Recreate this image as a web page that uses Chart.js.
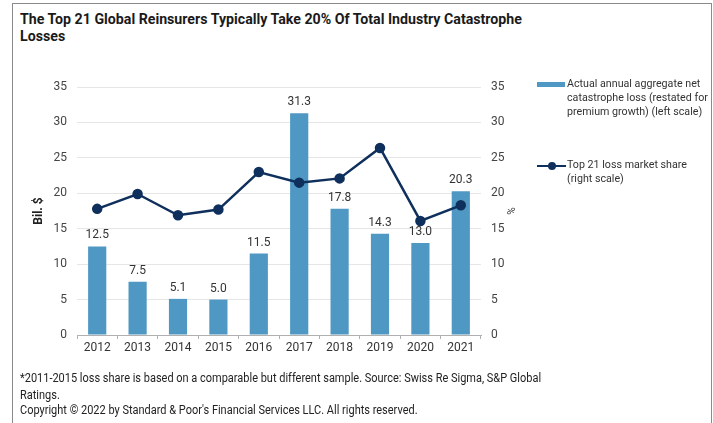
<!DOCTYPE html>
<html>
<head>
<meta charset="utf-8">
<script src="https://cdn.jsdelivr.net/npm/chart.js@4.4.1/dist/chart.umd.min.js"></script>
<style>
  html, body { margin: 0; padding: 0; background: #fff; }
  body { width: 713px; height: 423px; position: relative; overflow: hidden; font-family: Roboto, sans-serif; color: #111; }
  #frame { position: absolute; left: 12px; top: 3px; width: 700px; height: 440px; border: 1px solid #8a8a8a; box-sizing: border-box; }
  #title { position: absolute; left: 20px; top: 11px; width: 580px; font-weight: bold; font-size: 15px; line-height: 17px; color: #1a1a1a; transform: scaleX(0.945); transform-origin: left top; }
  #chartBox { position: absolute; left: 0; top: 0; width: 713px; height: 423px; }
  .note { position: absolute; left: 20px; font-size: 12px; color: #222; white-space: nowrap; transform: scaleX(0.915); transform-origin: left top; }
  .leg { position: absolute; left: 537px; font-size: 10.7px; line-height: 14px; color: #333; }
  .leg .txt { position: absolute; left: 30px; top: 0; width: 150px; white-space: nowrap; }
</style>
</head>
<body>
<div id="frame"></div>
<div id="title">The Top 21 Global Reinsurers Typically Take 20% Of Total Industry Catastrophe<br>Losses</div>
<div id="chartBox"><canvas id="chart" width="713" height="423"></canvas></div>
<div id="legend"></div>
<div class="note" style="top:371px">*2011-2015 loss share is based on a comparable but different sample. Source: Swiss Re Sigma, S&amp;P Global</div>
<div class="note" style="top:388px">Ratings.</div>
<div class="note" style="top:403px">Copyright © 2022 by Standard &amp; Poor's Financial Services LLC. All rights reserved.</div>
<script>
// data
const years = ['2012', '2013', '2014', '2015', '2016', '2017', '2018', '2019', '2020', '2021'];
const catLoss = [12.5, 7.5, 5.1, 5.0, 11.5, 31.3, 17.8, 14.3, 13.0, 20.3];
const marketShare = [17.8, 19.9, 16.9, 17.7, 23.0, 21.5, 22.1, 26.4, 16.1, 18.3];
const axisTicks = [0, 5, 10, 15, 20, 25, 30, 35];
const lossLabel = ['Actual annual aggregate net', 'catastrophe loss (restated for', 'premium growth) (left scale)'];
const shareLabel = ['Top 21 loss market share', '(right scale)'];

const barColor = '#4f98c3';
const lineColor = '#0f2f5c';

// value labels on top of bars
const barLabels = {
    id: 'barLabels',
    afterDatasetsDraw(chart) {
        const ctx = chart.ctx;
        const meta = chart.getDatasetMeta(1);
        ctx.save();
        ctx.font = '12px Roboto, sans-serif';
        ctx.fillStyle = '#333';
        ctx.textAlign = 'center';
        ctx.textBaseline = 'bottom';
        meta.data.forEach((bar, i) => {
            ctx.fillText(catLoss[i].toFixed(1), bar.x, bar.y - 5);
        });
        ctx.restore();
    }
};

let mychart = new Chart(document.getElementById('chart'), {
    type: 'bar',
    data: {
        labels: years,
        datasets: [
            {
                type: 'line',
                label: shareLabel.join(' '),
                data: marketShare,
                yAxisID: 'y2',
                borderColor: lineColor,
                backgroundColor: lineColor,
                borderWidth: 2.5,
                pointRadius: 4,
                pointBackgroundColor: lineColor,
                tension: 0,
                order: 0
            },
            {
                label: lossLabel.join(' '),
                data: catLoss,
                yAxisID: 'y',
                backgroundColor: barColor,
                barPercentage: 0.45,
                categoryPercentage: 1,
                order: 1
            }
        ]
    },
    options: {
        responsive: false,
        animation: false,
        layout: { padding: { left: 32, top: 87, right: 198, bottom: 66 } },
        plugins: { legend: { display: false }, tooltip: { enabled: false } },
        scales: {
            x: {
                grid: { display: true, drawOnChartArea: false, offset: true, tickLength: 4, color: '#b0b0b0' },
                border: { color: '#b0b0b0' },
                ticks: { font: { family: 'Roboto', size: 12 }, color: '#333', padding: 2 },
                afterFit: (s) => { s.height = 22; }
            },
            y: {
                position: 'left',
                min: 0, max: 35,
                afterBuildTicks: (s) => { s.ticks = axisTicks.map(v => ({ value: v })); },
                grid: { color: '#e6e6e6', drawTicks: false },
                border: { display: false },
                ticks: { font: { family: 'Roboto', size: 12 }, color: '#444', padding: 10 },
                title: { display: true, text: 'Bil. $', font: { family: 'Roboto', size: 12, weight: 'bold' }, color: '#222', padding: 0 },
                afterFit: (s) => { s.width = 45; }
            },
            y2: {
                position: 'right',
                min: 0, max: 35,
                afterBuildTicks: (s) => { s.ticks = axisTicks.map(v => ({ value: v })); },
                grid: { display: false, drawTicks: false },
                border: { display: false },
                ticks: { font: { family: 'Roboto', size: 12 }, color: '#444', padding: 10 },
                title: { display: true, text: '%', font: { family: 'Roboto', size: 10 }, color: '#333', padding: 0 },
                afterFit: (s) => { s.width = 34; }
            }
        }
    },
    plugins: [barLabels]
});

// html legend built from the dataset labels
const leg = document.getElementById('legend');
leg.innerHTML =
    '<div class="leg" style="top:77px"><div style="position:absolute;left:0;top:5px;width:28px;height:5px;background:' + barColor + '"></div>' +
    '<div class="txt">' + lossLabel.join('<br>') + '</div></div>' +
    '<div class="leg" style="top:158px"><div style="position:absolute;left:0;top:7px;width:29px;height:2px;background:' + lineColor + '"></div>' +
    '<div style="position:absolute;left:11px;top:4px;width:8px;height:8px;border-radius:50%;background:' + lineColor + '"></div>' +
    '<div class="txt">' + shareLabel.join('<br>') + '</div></div>';
</script>
</body>
</html>
